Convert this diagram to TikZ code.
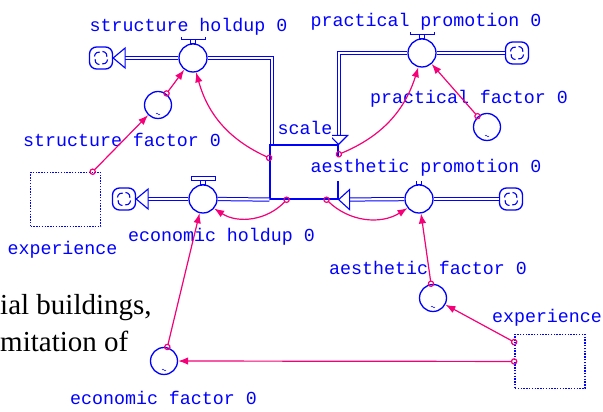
\documentclass[tikz,border=0pt]{standalone}
\usepackage{fontspec}
\usetikzlibrary{arrows.meta}
\newfontfamily\vensimfont{Liberation Mono}
\newfontfamily\paperfont{Liberation Serif}
\definecolor{vblue}{RGB}{0,0,255}
\definecolor{vpink}{RGB}{245,0,120}

\begin{document}
\begin{tikzpicture}[x=1pt,y=1pt]
  \useasboundingbox (0,0) rectangle (603,412);
  \tikzset{ValveStyle/.style = {circle,
                                draw           = vblue,
                                fill           = white,
                                line width     = 1.3pt,
                                inner sep      = 0pt,
                                minimum size   = 28pt}}

  \tikzset{AuxStyle/.style = {circle,
                              draw           = vblue,
                              line width     = 1.3pt,
                              inner sep      = 0pt,
                              minimum size   = 27pt,
                              path picture   = {\draw[vblue,line width=0.5pt]
                                ([shift={(-2pt,-9pt)}]path picture bounding box.center)
                                sin ++(1pt,0.8pt) cos ++(1pt,-0.8pt) sin ++(1pt,-0.8pt) cos ++(1pt,0.8pt);}}}

  \tikzset{CloudStyle/.style = {rectangle,
                                rounded corners = 7pt,
                                draw            = vblue,
                                line width      = 1.3pt,
                                inner sep       = 0pt,
                                minimum width   = 23pt,
                                minimum height  = 22pt,
                                path picture    = {\draw[vblue,line width=1.1pt,sharp corners,
                                                         shift={(path picture bounding box.center)}]
                                  (1.5pt,6.5pt)   arc[start angle=90,end angle=-10,radius=4.5pt]
                                  (-6.5pt,1.5pt)  arc[start angle=180,end angle=80,radius=4.5pt]
                                  (-1.5pt,-6.5pt) arc[start angle=270,end angle=170,radius=4.5pt]
                                  (6.5pt,-1.5pt)  arc[start angle=0,end angle=-100,radius=4.5pt];}}}

  \tikzset{StockStyle/.style = {rectangle,
                                draw            = vblue,
                                line width      = 1.2pt,
                                inner sep       = 0pt,
                                minimum width   = 68pt,
                                minimum height  = 54pt}}

  \tikzset{ShadowStyle/.style = {rectangle,
                                 draw           = vblue,
                                 line width     = 1.2pt,
                                 dash pattern   = on 1.4pt off 1.4pt,
                                 inner sep      = 0pt,
                                 minimum width  = 70pt,
                                 minimum height = 54pt}}

  \tikzset{CapStyle/.style   = {draw = vblue, line width = 1pt, fill = white}}
  \tikzset{PipeStyle/.style  = {draw = vblue, line width = 1pt, double = white, double distance = 2.2pt}}
  \tikzset{HeadStyle/.style  = {draw = vblue, line width = 1.1pt, fill = white, line join = miter}}
  \tikzset{LinkStyle/.style  = {draw = vpink, line width = 1.2pt, shorten <= -3pt,
                                arrows = {Circle[open,length=6.5pt,width=6.5pt]-Latex[length=10pt,width=7.5pt]}}}

  \tikzset{LabelStyle/.style = {anchor         = base,
                                text           = vblue,
                                fill           = white,
                                font           = \vensimfont\fontsize{18.3}{20}\selectfont,
                                inner xsep     = 0pt,
                                inner ysep     = 1.5pt,
                                text height    = 13pt,
                                text depth     = 4pt}}

  \tikzset{PaperStyle/.style = {anchor = base west, inner sep = 0pt,
                                font   = \paperfont\fontsize{29}{34}\selectfont}}

  % rates
     \node[ValveStyle] (SHold) at (193,354) {};
     \node[ValveStyle] (PProm) at (422,359) {};
     \node[ValveStyle] (EHold) at (203,213) {};
     \node[ValveStyle] (AProm) at (419,213) {};
  % auxiliaries
     \node[AuxStyle] (SFac) at (158,307) {};
     \node[AuxStyle] (PFac) at (487,285) {};
     \node[AuxStyle] (AFac) at (433,114) {};
     \node[AuxStyle] (EFac) at (164,51) {};
  % sources and sinks
     \node[CloudStyle] (C_1) at (101,354) {};
     \node[CloudStyle] (C_2) at (517,359) {};
     \node[CloudStyle] (C_3) at (124,213) {};
     \node[CloudStyle] (C_4) at (511,213) {};
  % level and shadow variables
     \node[StockStyle]  (Scale) at (304,240) {};
     \node[ShadowStyle] (Exp_1) at (65.5,212.5) {};
     \node[ShadowStyle] (Exp_2) at (550,50.5) {};

  % valve caps
     \draw[CapStyle] ([xshift=-2.5pt]SHold.north) rectangle ([xshift=2.5pt,yshift=4pt]SHold.north)
                     ([xshift=-12pt,yshift=4pt]SHold.north) rectangle ([xshift=12pt,yshift=8pt]SHold.north);
     \draw[CapStyle] ([xshift=-2.5pt]PProm.north) rectangle ([xshift=2.5pt,yshift=4pt]PProm.north)
                     ([xshift=-12pt,yshift=4pt]PProm.north) rectangle ([xshift=12pt,yshift=8pt]PProm.north);
     \draw[CapStyle] ([xshift=-2.5pt]EHold.north) rectangle ([xshift=2.5pt,yshift=4pt]EHold.north)
                     ([xshift=-12pt,yshift=4pt]EHold.north) rectangle ([xshift=12pt,yshift=8pt]EHold.north);
     \draw[CapStyle] ([xshift=-2.5pt]AProm.north) rectangle ([xshift=2.5pt,yshift=4pt]AProm.north)
                     ([xshift=-12pt,yshift=4pt]AProm.north) rectangle ([xshift=12pt,yshift=8pt]AProm.north);

  % flow pipes
     \draw[PipeStyle] (SHold.east) -| ([xshift=2.5pt]Scale.north west);
     \draw[PipeStyle, shorten >=12pt] (SHold) -- (C_1);
     \draw[PipeStyle] (EHold.east) -- (Scale.south west);
     \draw[PipeStyle, shorten >=12pt] (EHold) -- (C_3);
     \draw[PipeStyle] (C_2) -- (PProm);
     \draw[PipeStyle, shorten >=9pt] (PProm.west) -| (Scale.north east);
     \draw[PipeStyle] (C_4) -- (AProm);
     \draw[PipeStyle, shorten >=11pt] (AProm) -- (Scale.south east);

     \draw[HeadStyle] (C_1.east) -- ++(12,10) -- ++(0,-20) -- cycle;
     \draw[HeadStyle] (C_3.east) -- ++(12,10) -- ++(0,-20) -- cycle;
     \draw[HeadStyle] (Scale.north east) -- ++(-9,9) -- ++(18,0) -- cycle;
     \draw[HeadStyle] (Scale.south east) -- ++(11,10) -- ++(0,-20) -- cycle;

  % names
     \node[LabelStyle] (SHold_t) at (188.5,380) {structure holdup 0};
     \node[LabelStyle] (PProm_t) at (426,385)   {practical promotion 0};
     \node[LabelStyle] (EHold_t) at (221.5,170) {economic holdup 0};
     \node[LabelStyle, inner ysep=4pt] (AProm_t) at (426,239) {aesthetic promotion 0};
     \node[LabelStyle] (SFac_t)  at (122,265)   {structure factor 0};
     \node[LabelStyle] (PFac_t)  at (469,308)   {practical factor 0};
     \node[LabelStyle] (AFac_t)  at (428,137)   {aesthetic factor 0};
     \node[LabelStyle] (EFac_t)  at (163.5,7)   {economic factor 0};
     \node[LabelStyle] (Exp_1_t) at (62.5,157)  {experience};
     \node[LabelStyle] (Exp_2_t) at (547,89)    {experience};
     \node[LabelStyle] (Scale_t) at (305,277)   {scale};

     \node[PaperStyle] (Txt_1) at (0,97) {ial buildings,};
     \node[PaperStyle] (Txt_2) at (0,60) {mitation of};

  % links
     \draw[LinkStyle] (Exp_1) -- (SFac);
     \draw[LinkStyle] (SFac) -- (SHold);
     \draw[LinkStyle] (Scale.158) to[bend left=25] (SHold);
     \draw[LinkStyle] (Scale.27) to[bend right=25] (PProm);
     \draw[LinkStyle] (Scale.238) to[bend left=40] (EHold);
     \draw[LinkStyle] (Scale.309) to[bend right=38] (AProm);
     \draw[LinkStyle] (PFac) -- (PProm);
     \draw[LinkStyle] (AFac) -- (AProm);
     \draw[LinkStyle] (EFac) -- (EHold);
     \draw[LinkStyle] (Exp_2) -- (EFac);
     \draw[LinkStyle] (Exp_2) -- (AFac);
\end{tikzpicture}
\end{document}
